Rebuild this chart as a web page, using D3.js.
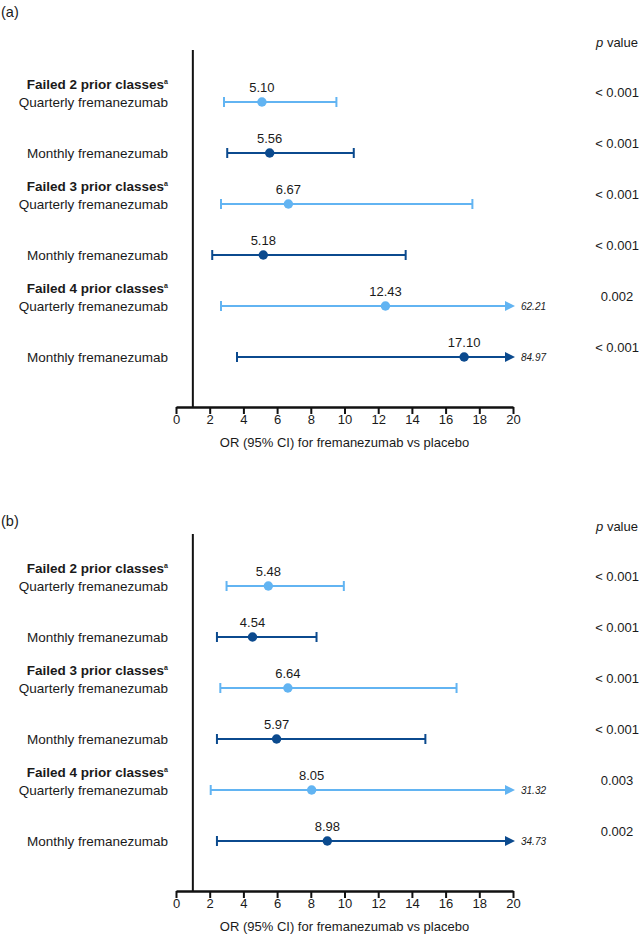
<html>
<head>
<script src="https://d3js.org/d3.v7.min.js"></script>
<style>
  body { margin: 0; background: white; }
  text { font-family: "Liberation Sans", Arial, sans-serif; fill: #1a1a1a; }
</style>
</head>
<body>
<svg id="chart" width="640" height="935"></svg>
<script>
// rows, top to bottom, same for both panels
const rowLabels = ["Quarterly fremanezumab", "Monthly fremanezumab",
                   "Quarterly fremanezumab", "Monthly fremanezumab",
                   "Quarterly fremanezumab", "Monthly fremanezumab"];
const groupLabels = ["Failed 2 prior classes", "Failed 3 prior classes", "Failed 4 prior classes"];
const dosing = ["Quarterly", "Monthly", "Quarterly", "Monthly", "Quarterly", "Monthly"];

// panel (a)
const orA   = [5.10, 5.56, 6.67, 5.18, 12.43, 17.10];
const lowA  = [2.85, 3.04, 2.67, 2.15, 2.67, 3.62];
const highA = [9.52, 10.55, 17.59, 13.63, 62.21, 84.97];
const pA    = ["< 0.001", "< 0.001", "< 0.001", "< 0.001", "0.002", "< 0.001"];

// panel (b)
const orB   = [5.48, 4.54, 6.64, 5.97, 8.05, 8.98];
const lowB  = [3.00, 2.43, 2.63, 2.43, 2.06, 2.43];
const highB = [9.96, 8.34, 16.65, 14.80, 31.32, 34.73];
const pB    = ["< 0.001", "< 0.001", "< 0.001", "< 0.001", "0.003", "0.002"];

const xTicks = [0, 2, 4, 6, 8, 10, 12, 14, 16, 18, 20];
const refLine = 1;
const axisTitle = "OR (95% CI) for fremanezumab vs placebo";

const colors = { Quarterly: "#62b4f2", Monthly: "#0b4a8e" };

var svg = d3.select("#chart");
var x = d3.scaleLinear().domain([0, 20]).range([176, 513]);
var y = d3.scaleLinear().domain([0, 5]).range([102, 357]);

function panel(g, letter, letterY, or, low, high, p) {
  var rows = or.map(function (d, i) {
    return { or: d, low: low[i], high: high[i], p: p[i], label: rowLabels[i], dose: dosing[i] };
  });

  g.append("text").attr("x", 1).attr("y", letterY).style("font-size", "14.5px").text(letter);

  var pv = g.append("text").attr("x", 617).attr("y", 47)
    .attr("text-anchor", "middle").style("font-size", "13px");
  pv.append("tspan").style("font-style", "italic").text("p");
  pv.append("tspan").text(" value");

  // reference line at OR = 1
  g.append("line")
    .attr("x1", x(refLine)).attr("x2", x(refLine))
    .attr("y1", 50).attr("y2", 407)
    .attr("stroke", "#111").attr("stroke-width", 2);

  // group headings
  groupLabels.forEach(function (t, k) {
    var tx = g.append("text").attr("x", 168).attr("y", y(k * 2) - 13)
      .attr("text-anchor", "end").style("font-size", "13.5px").style("font-weight", "bold");
    tx.append("tspan").text(t);
    tx.append("tspan").attr("dy", -5).style("font-size", "7px").text("a");
  });

  g.selectAll(".rl").data(rows).enter().append("text")
    .attr("x", 168).attr("y", function (d, i) { return y(i) + 5; })
    .attr("text-anchor", "end").style("font-size", "13.5px")
    .text(function (d) { return d.label; });

  var r = g.selectAll(".row").data(rows).enter().append("g")
    .attr("transform", function (d, i) { return "translate(0," + y(i) + ")"; });

  r.append("line")
    .attr("x1", function (d) { return x(d.low); })
    .attr("x2", function (d) { return d.high > 20 ? x(20) - 4 : x(d.high); })
    .attr("stroke", function (d) { return colors[d.dose]; })
    .attr("stroke-width", 2.2);

  r.append("line")
    .attr("x1", function (d) { return x(d.low); }).attr("x2", function (d) { return x(d.low); })
    .attr("y1", -5).attr("y2", 5)
    .attr("stroke", function (d) { return colors[d.dose]; }).attr("stroke-width", 2);

  r.filter(function (d) { return d.high <= 20; }).append("line")
    .attr("x1", function (d) { return x(d.high); }).attr("x2", function (d) { return x(d.high); })
    .attr("y1", -5).attr("y2", 5)
    .attr("stroke", function (d) { return colors[d.dose]; }).attr("stroke-width", 2);

  var over = r.filter(function (d) { return d.high > 20; });
  over.append("path")
    .attr("d", function () { var t = x(20) + 2; return "M" + (t - 10) + ",-5L" + t + ",0L" + (t - 10) + ",5Z"; })
    .attr("fill", function (d) { return colors[d.dose]; });
  over.append("text")
    .attr("x", x(20) + 8).attr("y", 4)
    .style("font-size", "10px").style("font-style", "italic")
    .text(function (d) { return d.high.toFixed(2); });

  r.append("circle")
    .attr("cx", function (d) { return x(d.or); })
    .attr("r", 4.7)
    .attr("fill", function (d) { return colors[d.dose]; });

  r.append("text")
    .attr("x", function (d) { return x(d.or); }).attr("y", -10)
    .attr("text-anchor", "middle").style("font-size", "13px")
    .text(function (d) { return d.or.toFixed(2); });

  r.append("text")
    .attr("x", 617).attr("y", -5)
    .attr("text-anchor", "middle").style("font-size", "13px")
    .text(function (d) { return d.p; });

  var ax = g.append("g").attr("transform", "translate(0,407)")
    .call(d3.axisBottom(x).tickValues(xTicks).tickSize(7).tickSizeOuter(0).tickFormat(d3.format("d")));
  ax.select(".domain").attr("stroke", "#111").attr("stroke-width", 2.5);
  ax.selectAll(".tick line").attr("stroke", "#111").attr("stroke-width", 2);
  ax.selectAll(".tick text").attr("y", 8).style("font-size", "13px")
    .style("font-family", "Liberation Sans, Arial, sans-serif").attr("fill", "#1a1a1a");

  g.append("text").attr("x", x(10)).attr("y", 447)
    .attr("text-anchor", "middle").style("font-size", "13px").text(axisTitle);
}

panel(svg.append("g"), "(a)", 17, orA, lowA, highA, pA);
panel(svg.append("g").attr("transform", "translate(0,484)"), "(b)", 42, orB, lowB, highB, pB);
</script>
</body>
</html>
